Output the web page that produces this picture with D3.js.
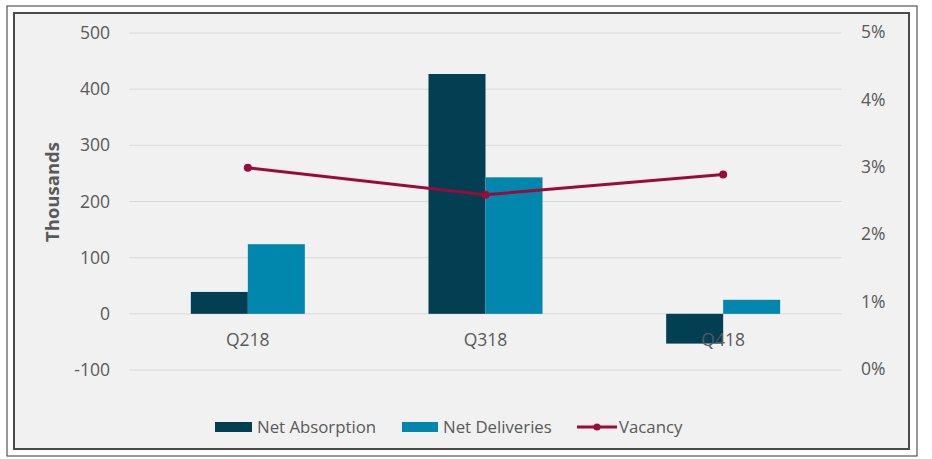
<!DOCTYPE html>
<html>
<head>
<meta charset="utf-8">
<script src="https://cdn.jsdelivr.net/npm/d3@7"></script>
<style>
  body { margin: 0; background: #fff; }
  text { font-family: "Open Sans", sans-serif; }
</style>
</head>
<body>
<div id="chart"></div>
<script>
// data
const quarters = ["Q218", "Q318", "Q418"];
const netAbsorption = [39, 427, -53];
const netDeliveries = [124, 243, 25];
const vacancy = [0.030, 0.026, 0.029];
const leftTicks = [-100, 0, 100, 200, 300, 400, 500];
const rightTicks = [0, 0.01, 0.02, 0.03, 0.04, 0.05];

const W = 932, H = 459;
const svg = d3.select("#chart").append("svg")
    .attr("width", W)
    .attr("height", H);

// frames
svg.append("rect")
    .attr("x", 7).attr("y", 6).attr("width", 910).attr("height", 450)
    .attr("fill", "#fff").attr("stroke", "#333").attr("stroke-width", 1);
svg.append("rect")
    .attr("x", 14).attr("y", 13).attr("width", 895).attr("height", 436)
    .attr("fill", "#f1f1f1").attr("stroke", "#4a4a4a").attr("stroke-width", 2);

const x0 = 129, x1 = 842;
const y = d3.scaleLinear().domain([-100, 500]).range([370, 33]);
const yR = d3.scaleLinear().domain([0, 0.05]).range([370, 33]);
const x = d3.scaleBand().domain(quarters).range([x0, x1]);
const sub = d3.scaleBand().domain(["abs", "del"])
    .range([0, 114]);

// gridlines
svg.append("g").selectAll("line")
    .data(leftTicks)
    .join("line")
    .attr("x1", x0).attr("x2", x1)
    .attr("y1", d => y(d)).attr("y2", d => y(d))
    .attr("stroke", "#d9d9d9").attr("stroke-width", 1);

// left axis labels
svg.append("g").selectAll("text")
    .data(leftTicks)
    .join("text")
    .attr("x", 110).attr("y", d => y(d))
    .attr("dy", "0.35em")
    .attr("text-anchor", "end")
    .attr("font-size", 17.5)
    .attr("fill", "#595959")
    .text(d => d);

// right axis labels
svg.append("g").selectAll("text")
    .data(rightTicks)
    .join("text")
    .attr("x", 861).attr("y", d => yR(d) - 1)
    .attr("dy", "0.35em")
    .attr("font-size", 17.5)
    .attr("fill", "#595959")
    .text(d3.format(".0%"));

svg.append("text")
    .attr("transform", "translate(59,192) rotate(-90)")
    .attr("text-anchor", "middle")
    .attr("font-size", 18.5)
    .attr("font-weight", "bold")
    .attr("fill", "#595959")
    .text("Thousands");

// bars
const groupOff = (x.bandwidth() - 114) / 2;
const bars = svg.append("g");
function drawBars(vals, key, color) {
    bars.selectAll("rect." + key)
        .data(vals)
        .join("rect")
        .attr("class", key)
        .attr("x", (d, i) => x(quarters[i]) + groupOff + sub(key))
        .attr("width", sub.bandwidth())
        .attr("y", d => y(Math.max(0, d)))
        .attr("height", d => Math.abs(y(d) - y(0)))
        .attr("fill", color);
}
drawBars(netAbsorption, "abs", "#033f53");
drawBars(netDeliveries, "del", "#0186ad");

// category labels
svg.append("g").selectAll("text")
    .data(quarters)
    .join("text")
    .attr("x", d => x(d) + x.bandwidth() / 2)
    .attr("y", 340)
    .attr("dy", "0.35em")
    .attr("text-anchor", "middle")
    .attr("font-size", 17.5)
    .attr("fill", "#595959")
    .text(d => d);

// vacancy line
const line = d3.line()
    .x((d, i) => x(quarters[i]) + x.bandwidth() / 2)
    .y(d => yR(d));
svg.append("path")
    .datum(vacancy)
    .attr("d", line)
    .attr("fill", "none")
    .attr("stroke", "#9b0a3b")
    .attr("stroke-width", 3);
svg.append("g").selectAll("circle")
    .data(vacancy)
    .join("circle")
    .attr("cx", (d, i) => x(quarters[i]) + x.bandwidth() / 2)
    .attr("cy", d => yR(d))
    .attr("r", 4)
    .attr("fill", "#9b0a3b");

// legend
const lg = svg.append("g").attr("font-size", 16.8).attr("fill", "#595959");
lg.append("rect").attr("x", 215).attr("y", 422).attr("width", 37).attr("height", 10).attr("fill", "#033f53");
lg.append("text").attr("x", 257).attr("y", 427).attr("dy", "0.35em").text("Net Absorption");
lg.append("rect").attr("x", 402).attr("y", 422).attr("width", 36).attr("height", 10).attr("fill", "#0186ad");
lg.append("text").attr("x", 443).attr("y", 427).attr("dy", "0.35em").text("Net Deliveries");
lg.append("line").attr("x1", 577).attr("x2", 617).attr("y1", 427).attr("y2", 427)
    .attr("stroke", "#9b0a3b").attr("stroke-width", 3);
lg.append("circle").attr("cx", 597).attr("cy", 427).attr("r", 3.5).attr("fill", "#9b0a3b");
lg.append("text").attr("x", 619).attr("y", 427).attr("dy", "0.35em").text("Vacancy");
</script>
</body>
</html>
